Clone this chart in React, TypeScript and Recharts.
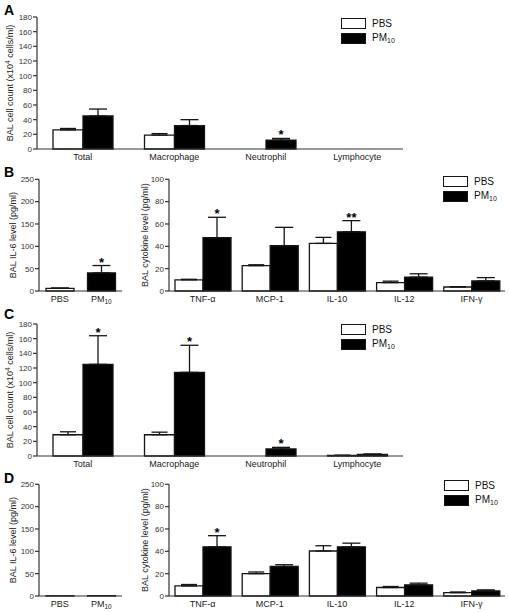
import React from 'react';
import { BarChart, Bar, XAxis, YAxis, ErrorBar, LabelList, Legend, Cell } from 'recharts';

// ---------- data ----------
const cellCategories = ['Total', 'Macrophage', 'Neutrophil', 'Lymphocyte'];
const cellTicks = [0, 20, 40, 60, 80, 100, 120, 140, 160, 180];

const aPbs = [26, 19, 0, 0];
const aPbsErr = [2, 2, 0, 0];
const aPm = [45, 32, 12.2, 0];
const aPmErr = [9.5, 8, 2.2, 0];
const aSig = ['', '', '*', ''];

const cPbs = [29, 29, 0, 0.8];
const cPbsErr = [4, 3.5, 0, 0.2];
const cPm = [125, 114, 9.6, 2.3];
const cPmErr = [39, 37, 2.2, 0.4];
const cSig = ['*', '*', '*', ''];

const il6Categories = ['PBS', 'PM10'];
const il6Ticks = [0, 50, 100, 150, 200, 250];
const bIl6 = [6, 40.5];
const bIl6Err = [0.8, 16.5];
const bIl6Sig = ['', '*'];
const dIl6 = [0.6, 0.8];
const dIl6Err = [0, 0];
const dIl6Sig = ['', ''];

const cytoCategories = ['TNF-\u03b1', 'MCP-1', 'IL-10', 'IL-12', 'IFN-\u03b3'];
const cytoTicks = [0, 20, 40, 60, 80, 100];

const bPbs = [10, 22.7, 42.6, 7.5, 3.6];
const bPbsErr = [0.5, 0.8, 5.4, 1.3, 0.3];
const bPm = [47.7, 40.5, 53, 12.4, 9];
const bPmErr = [18.3, 16.5, 10, 3, 3];
const bSig = ['*', '', '**', '', ''];

const dPbs = [9, 20, 40.3, 7.6, 3];
const dPbsErr = [1.3, 1.5, 4.7, 0.9, 0.6];
const dPm = [44, 26.4, 44, 10, 4.5];
const dPmErr = [10, 1.6, 3.3, 1.5, 1];
const dSig = ['*', '', '', '', ''];

// ---------- helpers ----------
const FONT = '"Liberation Sans", Arial, Helvetica, sans-serif';
const AX = '#333';
const EDGE = '#151515';

const errPair = (e: number) => (e > 0 ? [0, e] : null);

const buildPair = (cats: string[], pbs: number[], pbsErr: number[], pm: number[], pmErr: number[], sig: string[]) =>
  cats.map((c, i) => ({
    cat: c,
    pbs: pbs[i],
    pbsErr: errPair(pbsErr[i]),
    pm: pm[i],
    pmErr: errPair(pmErr[i]),
    pmErrVal: pmErr[i],
    sig: sig[i],
  }));

const buildSingle = (cats: string[], vals: number[], errs: number[], sig: string[]) =>
  cats.map((c, i) => ({ cat: c, v: vals[i], err: errPair(errs[i]), errVal: errs[i], sig: sig[i] }));

const makeStar = (data: any[], valKey: string, errKey: string) => (props: any) => {
  const { x, y, width, height, index } = props;
  const d = data[index];
  if (!d || !d.sig || !(d[valKey] > 0)) return null;
  const ppu = Number(height) / d[valKey];
  const top = Number(y) - d[errKey] * ppu;
  return (
    <text x={Number(x) + Number(width) / 2} y={top + 1} textAnchor="middle" fontSize={13} fontWeight="bold" fill="#000" fontFamily={FONT}>
      {d.sig}
    </text>
  );
};

const CatTick = (props: any) => {
  const { x, y, payload } = props;
  const v = String(payload.value);
  if (v === 'PM10') {
    return (
      <text x={x} y={y} dy="0.71em" textAnchor="middle" fontSize={9} fill="#222" fontFamily={FONT}>
        PM<tspan fontSize={6.5} dy={2}>10</tspan>
      </text>
    );
  }
  return (
    <text x={x} y={y} dy="0.71em" textAnchor="middle" fontSize={9} fill="#222" fontFamily={FONT}>
      {v}
    </text>
  );
};

const yLabel = (text: string, xPos: number, sup?: boolean) => (props: any) => {
  const vb = props.viewBox || {};
  const cy = vb.y + vb.height / 2;
  return (
    <text
      x={xPos}
      y={cy}
      transform={`rotate(-90 ${xPos} ${cy})`}
      textAnchor="middle"
      dominantBaseline="central"
      fontSize={9}
      fill="#222"
      fontFamily={FONT}
    >
      {sup ? (
        <>
          BAL cell count (x10<tspan fontSize={6.5} dy={-3}>4</tspan>
          <tspan fontSize={9} dy={3}> cells/ml)</tspan>
        </>
      ) : (
        text
      )}
    </text>
  );
};

const LegendContent = () => (
  <div style={{ fontFamily: FONT, fontSize: 10, color: '#111', lineHeight: '15px' }}>
    <div style={{ display: 'flex', alignItems: 'center', height: 15 }}>
      <div style={{ width: 23, height: 9, border: `1.5px solid ${EDGE}`, background: '#fff' }} />
      <span style={{ marginLeft: 6 }}>PBS</span>
    </div>
    <div style={{ display: 'flex', alignItems: 'center', height: 15 }}>
      <div style={{ width: 23, height: 9, border: `1.5px solid ${EDGE}`, background: '#000' }} />
      <span style={{ marginLeft: 6 }}>
        PM<sub style={{ fontSize: 7, verticalAlign: 'baseline', position: 'relative', top: 2 }}>10</sub>
      </span>
    </div>
  </div>
);

const legendEl = (left: number, top: number) => (
  <Legend
    layout="horizontal"
    verticalAlign="middle"
    align="center"
    content={<LegendContent />}
    wrapperStyle={{ left, top, width: 'auto', height: 'auto' }}
  />
);

const yAxisCommon = {
  tick: { fontSize: 8, fill: '#333', fontFamily: FONT },
  tickSize: 4,
  tickMargin: 1,
  axisLine: { stroke: AX, strokeWidth: 1.2 },
  tickLine: { stroke: AX, strokeWidth: 1.2 },
  interval: 0 as const,
};

const xAxisCommon = {
  dataKey: 'cat',
  tick: <CatTick />,
  tickLine: false,
  tickSize: 0,
  tickMargin: 5,
  axisLine: { stroke: AX, strokeWidth: 1.2 },
  interval: 0 as const,
};

// ---------- chart blocks ----------
const CellChart = ({ top, data, legendTop }: { top: number; data: any[]; legendTop: number }) => (
  <div style={{ position: 'absolute', left: 0, top }}>
    <BarChart width={509} height={170} data={data} margin={{ top: 17, right: 106, left: 0, bottom: 0 }} barGap={0}>
      <XAxis {...xAxisCommon} height={21} />
      <YAxis {...yAxisCommon} width={37} domain={[0, 180]} ticks={cellTicks} label={yLabel('', 10, true)} />
      <Bar dataKey="pbs" fill="#fff" stroke={EDGE} strokeWidth={1.3} barSize={30} isAnimationActive={false}>
        <ErrorBar dataKey="pbsErr" width={8} stroke={EDGE} strokeWidth={1.3} direction="y" />
      </Bar>
      <Bar dataKey="pm" fill="#000" stroke={EDGE} strokeWidth={1.3} barSize={30} isAnimationActive={false}>
        <ErrorBar dataKey="pmErr" width={9} stroke={EDGE} strokeWidth={1.3} direction="y" />
        <LabelList dataKey="sig" content={makeStar(data, 'pm', 'pmErrVal')} />
      </Bar>
      {legendEl(341, legendTop)}
    </BarChart>
  </div>
);

const Il6Chart = ({ top, data, xh }: { top: number; data: any[]; xh: number }) => (
  <div style={{ position: 'absolute', left: 0, top }}>
    <BarChart width={130} height={131 + xh} data={data} margin={{ top: 19.3, right: 8, left: 0, bottom: 0 }} barGap={0}>
      <XAxis {...xAxisCommon} height={xh} />
      <YAxis {...yAxisCommon} width={39} domain={[0, 250]} ticks={il6Ticks} label={yLabel('BAL IL-6 level  (pg/ml)', 13)} />
      <Bar dataKey="v" stroke={EDGE} strokeWidth={1.3} barSize={28} isAnimationActive={false}>
        {data.map((d, i) => (
          <Cell key={d.cat} fill={i === 0 ? '#fff' : '#000'} />
        ))}
        <ErrorBar dataKey="err" width={9} stroke={EDGE} strokeWidth={1.3} direction="y" />
        <LabelList dataKey="sig" content={makeStar(data, 'v', 'errVal')} />
      </Bar>
    </BarChart>
  </div>
);

const CytoChart = ({ top, data, xh, legendLeft, legendTop }: { top: number; data: any[]; xh: number; legendLeft: number; legendTop: number }) => (
  <div style={{ position: 'absolute', left: 130, top }}>
    <BarChart width={379} height={131 + xh} data={data} margin={{ top: 19.3, right: 4, left: 0, bottom: 0 }} barGap={0}>
      <XAxis {...xAxisCommon} height={xh} />
      <YAxis {...yAxisCommon} width={39} domain={[0, 100]} ticks={cytoTicks} label={yLabel('BAL cytokine level  (pg/ml)', 15)} />
      <Bar dataKey="pbs" fill="#fff" stroke={EDGE} strokeWidth={1.3} barSize={28} isAnimationActive={false}>
        <ErrorBar dataKey="pbsErr" width={8} stroke={EDGE} strokeWidth={1.3} direction="y" />
      </Bar>
      <Bar dataKey="pm" fill="#000" stroke={EDGE} strokeWidth={1.3} barSize={28} isAnimationActive={false}>
        <ErrorBar dataKey="pmErr" width={9} stroke={EDGE} strokeWidth={1.3} direction="y" />
        <LabelList dataKey="sig" content={makeStar(data, 'pm', 'pmErrVal')} />
      </Bar>
      {legendEl(legendLeft, legendTop)}
    </BarChart>
  </div>
);

const dataA = buildPair(cellCategories, aPbs, aPbsErr, aPm, aPmErr, aSig);
const dataC = buildPair(cellCategories, cPbs, cPbsErr, cPm, cPmErr, cSig);
const dataBIl6 = buildSingle(il6Categories, bIl6, bIl6Err, bIl6Sig);
const dataDIl6 = buildSingle(il6Categories, dIl6, dIl6Err, dIl6Sig);
const dataBCyto = buildPair(cytoCategories, bPbs, bPbsErr, bPm, bPmErr, bSig);
const dataDCyto = buildPair(cytoCategories, dPbs, dPbsErr, dPm, dPmErr, dSig);

const letterStyle = { fontFamily: FONT, fontSize: 14, fontWeight: 900, fill: '#000' } as const;

export default function App() {
  return (
    <div style={{ position: 'absolute', left: 0, top: 0, width: 509, height: 612, overflow: 'hidden', background: '#fff' }}>
      <CellChart top={0} data={dataA} legendTop={15.5} />
      <Il6Chart top={160} data={dataBIl6} xh={21} />
      <CytoChart top={160} data={dataBCyto} xh={21} legendLeft={313} legendTop={13.5} />
      <CellChart top={307} data={dataC} legendTop={14.5} />
      <Il6Chart top={465} data={dataDIl6} xh={16} />
      <CytoChart top={465} data={dataDCyto} xh={16} legendLeft={314} legendTop={12.8} />
      <svg width={509} height={612} style={{ position: 'absolute', left: 0, top: 0, pointerEvents: 'none' }}>
        <text x={4} y={15} {...letterStyle}>A</text>
        <text x={4} y={177} {...letterStyle}>B</text>
        <text x={4} y={319} {...letterStyle}>C</text>
        <text x={4} y={483} {...letterStyle}>D</text>
      </svg>
    </div>
  );
}
